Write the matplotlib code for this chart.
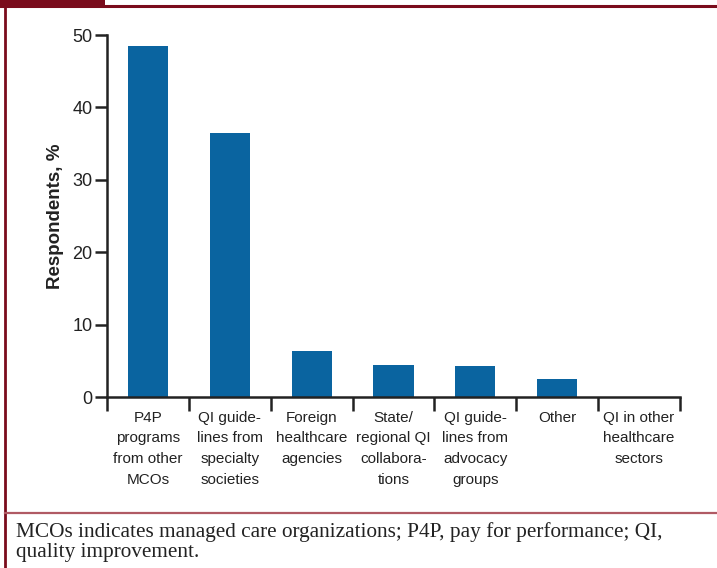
import matplotlib
matplotlib.use("Agg")
import matplotlib.pyplot as plt
import numpy as np

categories = ["P4P\nprograms\nfrom other\nMCOs",
              "QI guide-\nlines from\nspecialty\nsocieties",
              "Foreign\nhealthcare\nagencies",
              "State/\nregional QI\ncollabora-\ntions",
              "QI guide-\nlines from\nadvocacy\ngroups",
              "Other",
              "QI in other\nhealthcare\nsectors"]
values = [48.5, 36.5, 6.3, 4.4, 4.3, 2.5, 0.0]
yticks = [0, 10, 20, 30, 40, 50]
ylabel = "Respondents, %"
caption = "MCOs indicates managed care organizations; P4P, pay for performance; QI,\nquality improvement."

sans = ["Liberation Sans", "DejaVu Sans"]
serif = ["Liberation Serif", "DejaVu Serif"]

W, H = 717, 568
fig = plt.figure(figsize=(W/100, H/100), dpi=100)
ax = fig.add_axes([107/W, (H-397)/H, (680-107)/W, (397-35)/H])

bar_color = "#0a64a0"
x = np.arange(len(categories))
ax.bar(x, values, width=0.49, color=bar_color, zorder=2)

ax.set_xlim(-0.5, len(categories)-0.5)
ax.set_ylim(0, 50)
for s in ["top", "right"]:
    ax.spines[s].set_visible(False)
for s in ["left", "bottom"]:
    ax.spines[s].set_linewidth(1.8)
    ax.spines[s].set_color("#222222")

ax.set_yticks(yticks)
ax.set_yticklabels([str(t) for t in yticks], family=sans, fontsize=13, color="#222222")
ax.tick_params(axis="y", length=9, width=1.8, color="#222222", pad=1.5)

ax.set_xticks(x)
ax.set_xticklabels(categories, family=sans, fontsize=11, color="#222222", linespacing=1.6)
ax.tick_params(axis="x", which="major", length=0, pad=10)
ax.set_xticks(np.arange(-0.5, len(categories)), minor=True)
ax.tick_params(axis="x", which="minor", length=10, width=1.8, color="#222222", direction="out")

ax.set_ylabel(ylabel, family=sans, fontsize=13.5, fontweight="bold", color="#222222", labelpad=6)

# frame decorations
red = "#7a0c1c"
fig.add_artist(plt.Rectangle((0, 1-5/H), 105/W, 5/H, transform=fig.transFigure, color=red, lw=0))
fig.add_artist(plt.Line2D([0, 1], [1-5.5/H, 1-5.5/H], transform=fig.transFigure, color=red, lw=2.2))
fig.add_artist(plt.Line2D([4.5/W, 4.5/W], [0, 1-5/H], transform=fig.transFigure, color=red, lw=2.0))
fig.add_artist(plt.Line2D([4.5/W, 1], [1-513/H, 1-513/H], transform=fig.transFigure, color="#b05a64", lw=1.6))

fig.text(16/W, 1-522/H, caption, family=serif, fontsize=15.3, color="#222222", va="top", ha="left", linespacing=1.06)

fig.savefig("out.png", dpi=100)
